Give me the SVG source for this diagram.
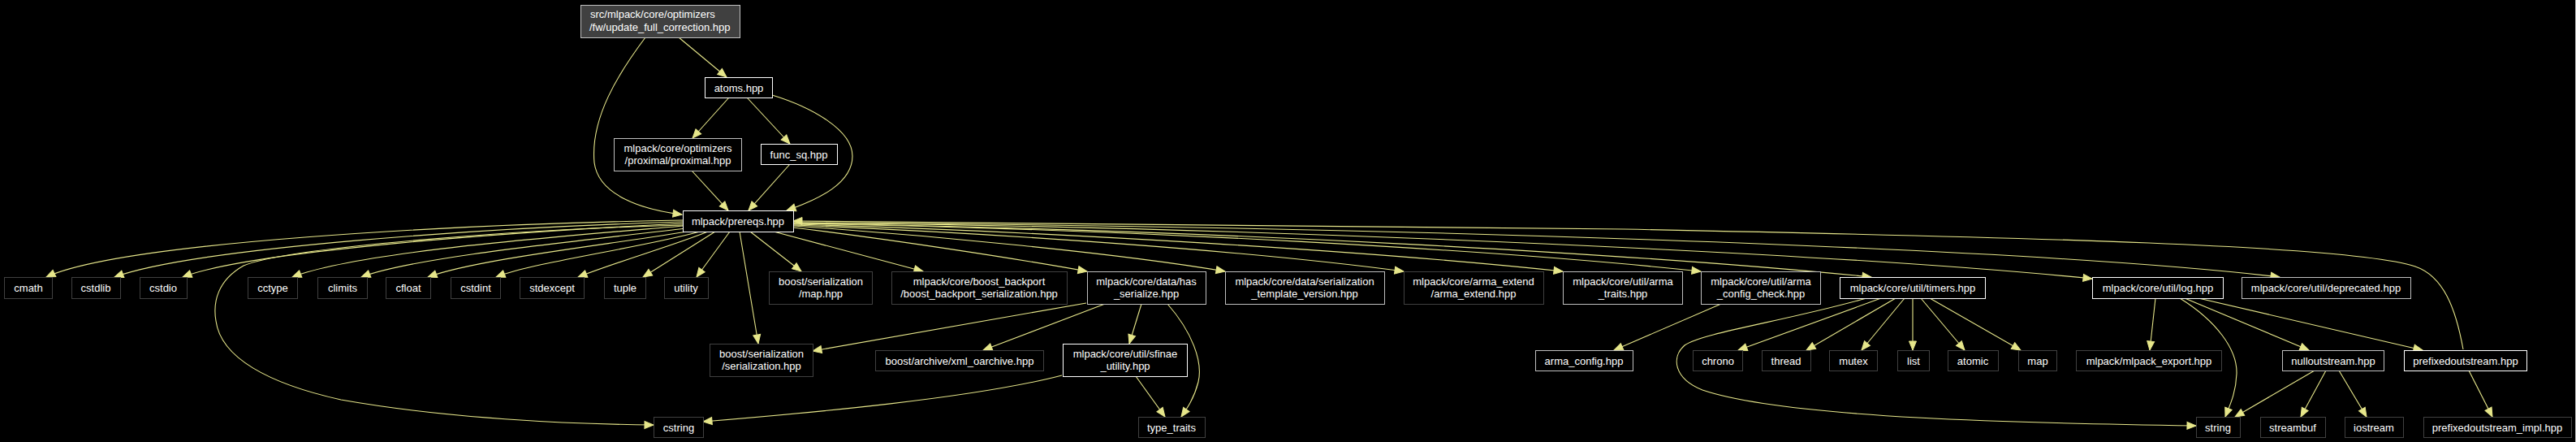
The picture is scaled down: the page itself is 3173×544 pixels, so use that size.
<svg xmlns="http://www.w3.org/2000/svg" width="3173" height="544" viewBox="0 0 3173 544">
<defs>
<style>
.n rect{fill:#000;stroke:#ffffff;stroke-width:1}
.n.g rect{stroke:#bfbfbf}
.n.d rect{stroke:#404040}
.n.top rect{fill:#404040;stroke:#bfbfbf}
.n text{font-family:"Liberation Sans",Arial,sans-serif;font-size:13px;fill:#ffffff;text-anchor:middle}
#edges path{fill:none;stroke:#e6e68a;stroke-width:1.1}
</style>
<marker id="ah" markerUnits="userSpaceOnUse" markerWidth="14" markerHeight="10" refX="11" refY="4.5" orient="auto" overflow="visible">
<path d="M0,0 L11,4.5 L0,9 z" fill="#e6e68a" stroke="#e6e68a" stroke-width="1"/>
</marker>
</defs>
<rect x="0" y="0" width="3173" height="544" fill="#000"/>
<line x1="3172.5" y1="0" x2="3172.5" y2="544" stroke="#bfbfbf" stroke-width="1"/>

<g id="edges" marker-end="url(#ah)">
<path d="M836,46 L895,95" marker-end="url(#ah)"/>
<path d="M795,46 C762,90 727,145 732,200 C737,240 790,258 840,264" marker-end="url(#ah)"/>
<path d="M898,120 L853,170" marker-end="url(#ah)"/>
<path d="M920,120 L973,177" marker-end="url(#ah)"/>
<path d="M951,117 C1000,132 1050,160 1050,192 C1050,225 1010,245 969,259" marker-end="url(#ah)"/>
<path d="M852,210 L897,259" marker-end="url(#ah)"/>
<path d="M973,202 L922,259" marker-end="url(#ah)"/>

<path d="M841,271 C560,276 150,298 57,341" marker-end="url(#ah)"/>
<path d="M841,273 C600,280 240,305 141,341" marker-end="url(#ah)"/>
<path d="M841,275 C640,285 310,308 225,341" marker-end="url(#ah)"/>
<path d="M842,278 C680,292 440,310 360,341" marker-end="url(#ah)"/>
<path d="M845,281 C720,296 510,316 445,341" marker-end="url(#ah)"/>
<path d="M852,284 C760,300 590,318 527,341" marker-end="url(#ah)"/>
<path d="M862,285 C790,305 660,322 611,341" marker-end="url(#ah)"/>
<path d="M872,285 C830,302 760,322 712,341" marker-end="url(#ah)"/>
<path d="M881,285 L792,341" marker-end="url(#ah)"/>
<path d="M899,285 L858,341" marker-end="url(#ah)"/>
<path d="M911,285 L934,423" marker-end="url(#ah)"/>
<path d="M924,285 L987,334" marker-end="url(#ah)"/>
<path d="M953,285 L1137,334" marker-end="url(#ah)"/>
<path d="M977,280 C1100,295 1250,318 1339,334" marker-end="url(#ah)"/>
<path d="M977,278 C1150,290 1380,312 1509,334" marker-end="url(#ah)"/>
<path d="M977,277 C1250,288 1550,310 1729,334" marker-end="url(#ah)"/>
<path d="M977,276 C1300,285 1700,310 1925,334" marker-end="url(#ah)"/>
<path d="M977,275 C1400,282 1850,308 2095,334" marker-end="url(#ah)"/>
<path d="M977,275 C1500,282 2050,315 2305,341" marker-end="url(#ah)"/>
<path d="M977,274 C1600,280 2300,315 2577,343" marker-end="url(#ah)"/>
<path d="M977,274 C1700,278 2500,305 2808,341" marker-end="url(#ah)"/>
<path d="M841,277 C640,282 350,305 300,327 C268,345 262,372 266,395 C272,440 330,472 420,492 C550,515 700,522 805,523" marker-end="url(#ah)"/>
<path d="M3034,430 C3025,380 3010,340 2975,328 C2900,302 2500,292 2000,282 C1600,275 1200,272 977,272" marker-end="url(#ah)"/>

<path d="M1338,373 L1001,432" marker-end="url(#ah)"/>
<path d="M1361,374 L1211,431" marker-end="url(#ah)"/>
<path d="M1406,374 L1391,423" marker-end="url(#ah)"/>
<path d="M1438,374 C1468,408 1482,445 1476,470 C1471,490 1462,503 1455,513" marker-end="url(#ah)"/>
<path d="M1308,462 C1200,490 1000,508 866,519" marker-end="url(#ah)"/>
<path d="M1399,463 L1435,513" marker-end="url(#ah)"/>

<path d="M2120,374 L1988,431" marker-end="url(#ah)"/>

<path d="M2299,367 C2200,395 2095,410 2075,425 C2058,440 2062,466 2097,480 C2200,515 2500,521 2705,524" marker-end="url(#ah)"/>
<path d="M2317,367 L2141,431" marker-end="url(#ah)"/>
<path d="M2335,367 L2225,431" marker-end="url(#ah)"/>
<path d="M2346,367 L2293,431" marker-end="url(#ah)"/>
<path d="M2356,367 L2356,431" marker-end="url(#ah)"/>
<path d="M2366,367 L2420,431" marker-end="url(#ah)"/>
<path d="M2377,367 L2489,431" marker-end="url(#ah)"/>

<path d="M2655,367 L2648,431" marker-end="url(#ah)"/>
<path d="M2685,367 C2730,395 2756,430 2755,460 C2754,485 2746,500 2741,513" marker-end="url(#ah)"/>
<path d="M2691,367 L2844,431" marker-end="url(#ah)"/>
<path d="M2708,367 L2984,431" marker-end="url(#ah)"/>

<path d="M2851,456 L2753,513" marker-end="url(#ah)"/>
<path d="M2865,456 L2834,513" marker-end="url(#ah)"/>
<path d="M2881,456 L2915,513" marker-end="url(#ah)"/>
<path d="M3041,456 L3070,513" marker-end="url(#ah)"/>
</g>

<g id="n_top" class="n top"><rect x="715.5" y="6.5" width="196" height="40"/><text x="727" y="22" style="text-anchor:start">src/mlpack/core/optimizers</text><text x="726" y="38" style="text-anchor:start">/fw/update_full_correction.hpp</text></g>
<g id="n_atoms" class="n"><rect x="868.5" y="95.5" width="83" height="25"/><text x="910" y="112.5">atoms.hpp</text></g>
<g id="n_proximal" class="n g"><rect x="756.5" y="170.5" width="157" height="40"/><text x="835" y="186.5">mlpack/core/optimizers</text><text x="835" y="201.5">/proximal/proximal.hpp</text></g>
<g id="n_funcsq" class="n"><rect x="937.5" y="177.5" width="94" height="25"/><text x="984" y="194.5">func_sq.hpp</text></g>
<g id="n_prereqs" class="n"><rect x="841.5" y="259.5" width="136" height="26"/><text x="909" y="277">mlpack/prereqs.hpp</text></g>

<g id="n_cmath" class="n d"><rect x="5.5" y="341.5" width="59" height="26"/><text x="35" y="359">cmath</text></g>
<g id="n_cstdlib" class="n d"><rect x="88.5" y="341.5" width="60" height="26"/><text x="118" y="359">cstdlib</text></g>
<g id="n_cstdio" class="n d"><rect x="172.5" y="341.5" width="58" height="26"/><text x="201" y="359">cstdio</text></g>
<g id="n_cctype" class="n d"><rect x="305.5" y="341.5" width="61" height="26"/><text x="336" y="359">cctype</text></g>
<g id="n_climits" class="n d"><rect x="391.5" y="341.5" width="61" height="26"/><text x="422" y="359">climits</text></g>
<g id="n_cfloat" class="n d"><rect x="475.5" y="341.5" width="55" height="26"/><text x="503" y="359">cfloat</text></g>
<g id="n_cstdint" class="n d"><rect x="555.5" y="341.5" width="61" height="26"/><text x="586" y="359">cstdint</text></g>
<g id="n_stdexcept" class="n d"><rect x="640.5" y="341.5" width="79" height="26"/><text x="680" y="359">stdexcept</text></g>
<g id="n_tuple" class="n d"><rect x="744.5" y="341.5" width="51" height="26"/><text x="770" y="359">tuple</text></g>
<g id="n_utility" class="n d"><rect x="818.5" y="341.5" width="54" height="26"/><text x="845" y="359">utility</text></g>

<g id="n_bsmap" class="n d"><rect x="947.5" y="334.5" width="127" height="40"/><text x="1011" y="350.5">boost/serialization</text><text x="1011" y="365.5">/map.hpp</text></g>
<g id="n_backport" class="n d"><rect x="1098.5" y="334.5" width="216" height="40"/><text x="1206" y="350.5">mlpack/core/boost_backport</text><text x="1206" y="365.5">/boost_backport_serialization.hpp</text></g>
<g id="n_hasser" class="n g"><rect x="1339.5" y="334.5" width="146" height="40"/><text x="1412" y="350.5">mlpack/core/data/has</text><text x="1412" y="365.5">_serialize.hpp</text></g>
<g id="n_tmplver" class="n g"><rect x="1509.5" y="334.5" width="196" height="40"/><text x="1607" y="350.5">mlpack/core/data/serialization</text><text x="1607" y="365.5">_template_version.hpp</text></g>
<g id="n_armaext" class="n d"><rect x="1729.5" y="334.5" width="172" height="40"/><text x="1815" y="350.5">mlpack/core/arma_extend</text><text x="1815" y="365.5">/arma_extend.hpp</text></g>
<g id="n_armatraits" class="n g"><rect x="1925.5" y="334.5" width="147" height="40"/><text x="1999" y="350.5">mlpack/core/util/arma</text><text x="1999" y="365.5">_traits.hpp</text></g>
<g id="n_armacc" class="n g"><rect x="2095.5" y="334.5" width="147" height="40"/><text x="2169" y="350.5">mlpack/core/util/arma</text><text x="2169" y="365.5">_config_check.hpp</text></g>
<g id="n_timers" class="n"><rect x="2266.5" y="341.5" width="179" height="26"/><text x="2356" y="359">mlpack/core/util/timers.hpp</text></g>
<g id="n_log" class="n"><rect x="2577.5" y="341.5" width="161" height="26"/><text x="2658" y="359">mlpack/core/util/log.hpp</text></g>
<g id="n_deprecated" class="n g"><rect x="2761.5" y="341.5" width="208" height="26"/><text x="2865" y="359">mlpack/core/util/deprecated.hpp</text></g>

<g id="n_bsser" class="n d"><rect x="874.5" y="423.5" width="127" height="40"/><text x="938" y="439.5">boost/serialization</text><text x="938" y="454.5">/serialization.hpp</text></g>
<g id="n_xml" class="n d"><rect x="1078.5" y="431.5" width="207" height="25"/><text x="1182" y="448.5">boost/archive/xml_oarchive.hpp</text></g>
<g id="n_sfinae" class="n"><rect x="1309.5" y="423.5" width="153" height="40"/><text x="1386" y="439.5">mlpack/core/util/sfinae</text><text x="1386" y="454.5">_utility.hpp</text></g>
<g id="n_armaconfig" class="n g"><rect x="1891.5" y="431.5" width="120" height="25"/><text x="1951" y="448.5">arma_config.hpp</text></g>
<g id="n_chrono" class="n d"><rect x="2085.5" y="431.5" width="61" height="25"/><text x="2116" y="448.5">chrono</text></g>
<g id="n_thread" class="n d"><rect x="2170.5" y="431.5" width="60" height="25"/><text x="2200" y="448.5">thread</text></g>
<g id="n_mutex" class="n d"><rect x="2253.5" y="431.5" width="59" height="25"/><text x="2283" y="448.5">mutex</text></g>
<g id="n_list" class="n d"><rect x="2337.5" y="431.5" width="39" height="25"/><text x="2357" y="448.5">list</text></g>
<g id="n_atomic" class="n d"><rect x="2399.5" y="431.5" width="62" height="25"/><text x="2430" y="448.5">atomic</text></g>
<g id="n_map" class="n d"><rect x="2486.5" y="431.5" width="47" height="25"/><text x="2510" y="448.5">map</text></g>
<g id="n_export" class="n d"><rect x="2557.5" y="431.5" width="179" height="25"/><text x="2647" y="448.5">mlpack/mlpack_export.hpp</text></g>
<g id="n_null" class="n g"><rect x="2811.5" y="431.5" width="125" height="25"/><text x="2874" y="448.5">nulloutstream.hpp</text></g>
<g id="n_prefixed" class="n"><rect x="2961.5" y="431.5" width="151" height="25"/><text x="3037" y="448.5">prefixedoutstream.hpp</text></g>

<g id="n_cstring" class="n d"><rect x="805.5" y="513.5" width="61" height="25"/><text x="836" y="530.5">cstring</text></g>
<g id="n_typetraits" class="n d"><rect x="1402.5" y="513.5" width="82" height="25"/><text x="1443" y="530.5">type_traits</text></g>
<g id="n_string" class="n d"><rect x="2705.5" y="513.5" width="54" height="25"/><text x="2732" y="530.5">string</text></g>
<g id="n_streambuf" class="n d"><rect x="2784.5" y="513.5" width="80" height="25"/><text x="2824" y="530.5">streambuf</text></g>
<g id="n_iostream" class="n d"><rect x="2888.5" y="513.5" width="72" height="25"/><text x="2924" y="530.5">iostream</text></g>
<g id="n_impl" class="n d"><rect x="2985.5" y="513.5" width="182" height="25"/><text x="3076" y="530.5">prefixedoutstream_impl.hpp</text></g>
</svg>
